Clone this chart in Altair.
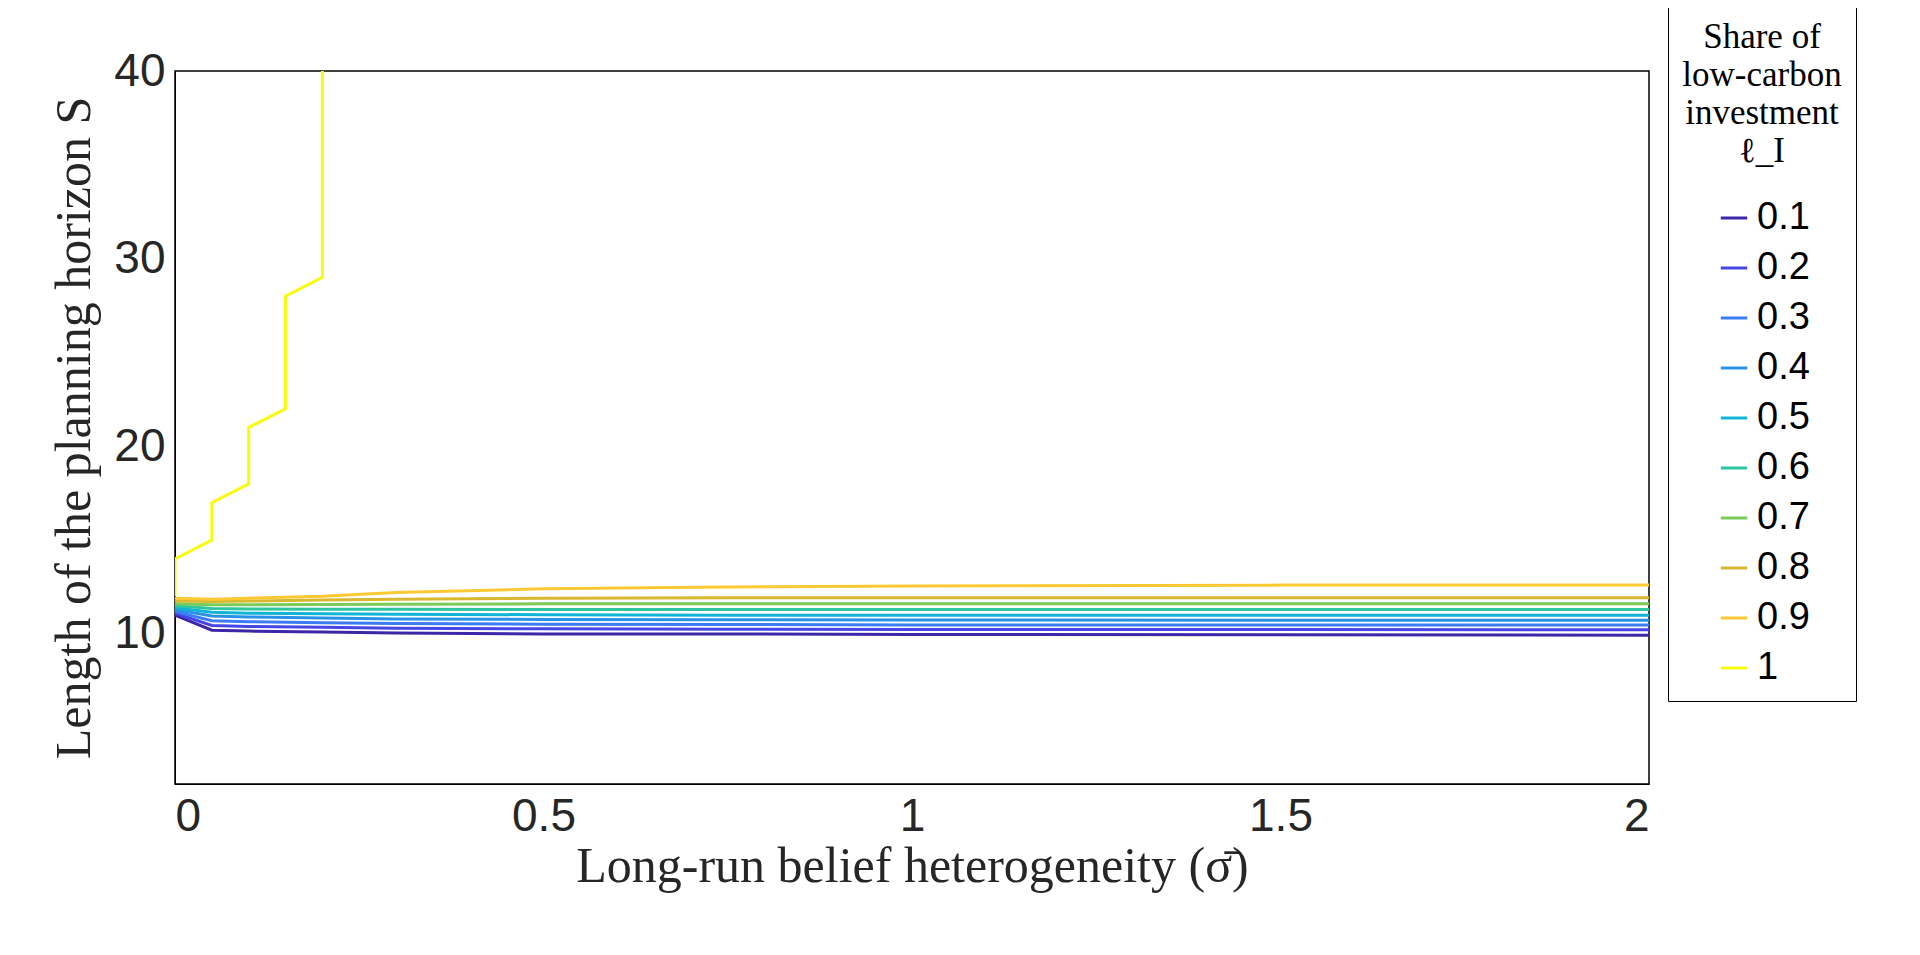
import altair as alt
import pandas as pd

shares = ["0.1", "0.2", "0.3", "0.4", "0.5", "0.6", "0.7", "0.8", "0.9", "1"]
colors = ["#3e26a8", "#4745e6", "#3a7cf4", "#2792e6", "#12b4d6", "#2ec4a0",
          "#7acb58", "#d9b72e", "#fcc932", "#f9fb0e"]

sigma = [0, 0.05, 0.1, 0.2, 0.3, 0.5, 0.75, 1.0, 1.5, 2.0]
horizon = {
    "0.1": [11.0, 10.2, 10.15, 10.1, 10.05, 10.0, 10.0, 9.97, 9.95, 9.93],
    "0.2": [11.1, 10.45, 10.4, 10.35, 10.3, 10.27, 10.25, 10.24, 10.23, 10.22],
    "0.3": [11.2, 10.7, 10.65, 10.6, 10.55, 10.52, 10.5, 10.48, 10.47, 10.47],
    "0.4": [11.3, 10.95, 10.9, 10.85, 10.8, 10.77, 10.75, 10.74, 10.73, 10.73],
    "0.5": [11.4, 11.15, 11.1, 11.08, 11.05, 11.02, 11.0, 11.0, 11.0, 11.0],
    "0.6": [11.5, 11.35, 11.33, 11.32, 11.31, 11.3, 11.3, 11.3, 11.3, 11.3],
    "0.7": [11.6, 11.55, 11.55, 11.57, 11.58, 11.6, 11.6, 11.6, 11.6, 11.6],
    "0.8": [11.75, 11.72, 11.75, 11.8, 11.85, 11.9, 11.92, 11.93, 11.93, 11.93],
    "0.9": [11.9, 11.85, 11.9, 12.0, 12.2, 12.4, 12.5, 12.55, 12.6, 12.6],
}
# share = 1 climbs in steps and leaves the plot
full_sigma = [0, 0, 0.05, 0.05, 0.1, 0.1, 0.15, 0.15, 0.2, 0.2]
full_horizon = [12, 14, 15, 17, 18, 21, 22, 28, 29, 40]

rows = []
for s, vals in horizon.items():
    for i, (x, y) in enumerate(zip(sigma, vals)):
        rows.append({"share": s, "sigma": x, "S": y, "order": i})
for i, (x, y) in enumerate(zip(full_sigma, full_horizon)):
    rows.append({"share": "1", "sigma": x, "S": y, "order": i})
df = pd.DataFrame(rows)

chart = (
    alt.Chart(df)
    .mark_line(strokeWidth=3, clip=True)
    .encode(
        x=alt.X("sigma:Q", title="Long-run belief heterogeneity (σ̄)",
                scale=alt.Scale(domain=[0, 2], nice=False),
                axis=alt.Axis(values=[0, 0.5, 1, 1.5, 2], format="~g", grid=False,
                              tickSize=0, labelPadding=10, titlePadding=2)),
        y=alt.Y("S:Q", title="Length of the planning horizon S",
                scale=alt.Scale(domain=[2, 40], nice=False),
                axis=alt.Axis(values=[10, 20, 30, 40], grid=False, tickSize=0,
                              labelPadding=10, titlePadding=14)),
        color=alt.Color("share:N", sort=shares,
                        scale=alt.Scale(domain=shares, range=colors),
                        legend=alt.Legend(
                            title=["Share of", "low-carbon", "investment", "ℓ_I"],
                            orient="none", legendX=1493, legendY=-65,
                            symbolType="stroke", symbolStrokeWidth=3, symbolSize=700,
                            strokeColor="black", padding=14, rowPadding=12,
                            labelFontSize=38, labelFont="Liberation Sans",
                            titleFont="Liberation Serif", titleFontSize=35,
                            titleFontWeight="normal", titleAlign="center",
                            titleAnchor="middle", titlePadding=30, titleLineHeight=38)),
        order="order:Q",
    )
    .properties(width=1474, height=713, autosize=alt.AutoSizeParams(type="none"),
                padding={"left": 167, "top": 63, "right": 263, "bottom": 170})
    .configure_view(stroke="black", strokeWidth=1.5)
    .configure_axis(domainColor="black", labelFont="Liberation Sans", labelFontSize=46,
                    labelColor="#262626", titleFont="Liberation Serif", titleFontSize=50,
                    titleFontWeight="normal", titleColor="#262626")
)

chart.save("out.html", embed_options={"renderer": "svg", "actions": False})
